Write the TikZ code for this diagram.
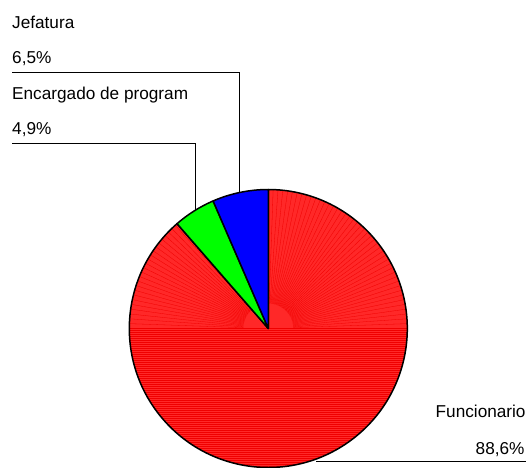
\documentclass[tikz,border=0pt]{standalone}
\usepackage{fontspec}
\setmainfont{Liberation Sans}
\usetikzlibrary{calc}
\definecolor{piered}{RGB}{255,40,40}
\definecolor{piestripe}{RGB}{240,0,0}
\definecolor{piegreen}{RGB}{0,255,0}
\definecolor{pieblue}{RGB}{0,0,255}
\begin{document}
\begin{tikzpicture}[x=1pt,y=1pt,
  lbl/.style={anchor=base west,inner sep=0pt,font=\fontsize{17.2}{20}\selectfont},
  leader/.style={line width=1pt,black},
  slice/.style={draw=black,line width=1.5pt,line join=round}]
\useasboundingbox (0,0) rectangle (526,467);
\coordinate (C) at (268.3,138.5);
\def\R{139}
% red slice with stripe texture
\begin{scope}
  \clip (C) -- ++(131.04:\R) arc[start angle=131.04,end angle=450,radius=\R] -- cycle;
  \fill[piered] (C) circle[radius=\R];
  \foreach \yy in {0,2,...,140} {
    \draw[piestripe,line width=0.6pt] (120,138.5-\yy) -- (420,138.5-\yy);
  }
  \foreach \a in {0,2,...,180} {
    \draw[piestripe,line width=0.3pt] ($(C)+(\a:25)$) -- ++(\a:114);
  }
\end{scope}
\draw[slice] (C) -- ++(131.04:\R) arc[start angle=131.04,end angle=450,radius=\R] -- cycle;
% green slice
\filldraw[slice,fill=piegreen] (C) -- ++(113.4:\R) arc[start angle=113.4,end angle=131.04,radius=\R] -- cycle;
% blue slice
\filldraw[slice,fill=pieblue] (C) -- ++(90:\R) arc[start angle=90,end angle=113.4,radius=\R] -- cycle;
% labels
\node[lbl] (jef) at (12,438.7) {Jefatura};
\node[lbl] (jefp) at (12,403.7) {6,5\%};
\node[lbl] (enc) at (12,367.7) {Encargado de program};
\node[lbl] (encp) at (12,333) {4,9\%};
\node[lbl] (fun) at (435.5,49.7) {Funcionario};
\node[lbl] (funp) at (475.5,13) {88,6\%};
% leader lines
\coordinate (j1) at (12,394.3);
\coordinate (j2) at (239.3,394.3);
\coordinate (j3) at (239.3,274.4);
\draw[leader] (j1) -- (j2) -- (j3);
\coordinate (e1) at (12,323.7);
\coordinate (e2) at (195.3,323.7);
\coordinate (e3) at (195.3,256.8);
\draw[leader] (e1) -- (e2) -- (e3);
\coordinate (f1) at (316,5.5);
\coordinate (f2) at (526,5.5);
\draw[leader] (f1) -- (f2);
\end{tikzpicture}
\end{document}
